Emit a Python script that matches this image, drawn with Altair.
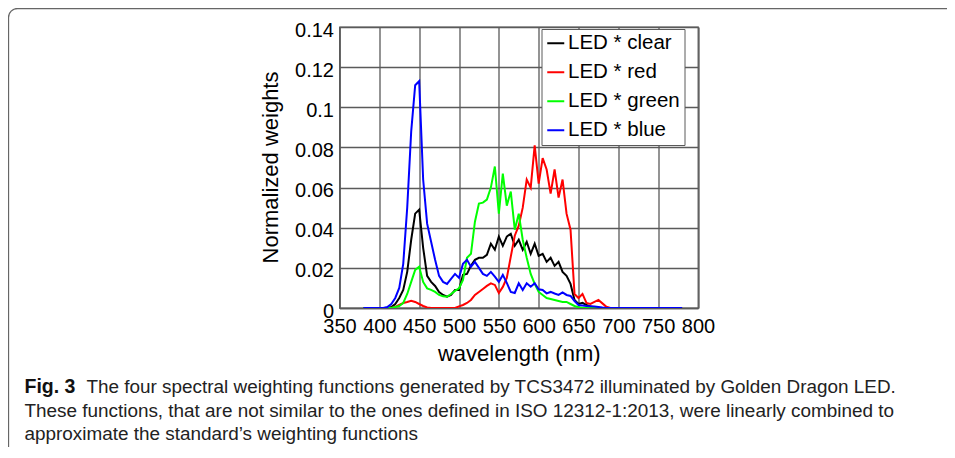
import altair as alt
import pandas as pd

# ---------------- data ----------------
wavelength = list(range(380, 785, 5))  # nm

clear = [0, 0, 0, 0, 0, 0, 0, 0.0005, 0.002, 0.005,
         0.009, 0.018, 0.034, 0.047, 0.049, 0.030, 0.016, 0.013, 0.011, 0.008,
         0.0065, 0.0056, 0.0065, 0.009, 0.009, 0.0165, 0.017, 0.021, 0.024, 0.025,
         0.025, 0.0265, 0.032, 0.029, 0.0356, 0.031, 0.0356, 0.037, 0.031, 0.034,
         0.029, 0.033, 0.027, 0.032, 0.026, 0.027, 0.023, 0.025, 0.021, 0.023,
         0.018, 0.016, 0.012, 0.004, 0.002, 0.0026, 0.0015, 0.0008, 0.0003, 0,
         0, 0, 0, 0, 0, 0, 0, 0, 0, 0,
         0, 0, 0, 0, 0, 0, 0, 0, 0, 0,
         0]

red = [0, 0, 0, 0, 0, 0, 0, 0, 0.0005, 0.0015,
       0.0025, 0.003, 0.0036, 0.003, 0.002, 0.001, 0.0003, 0, 0, 0,
       0, 0, 0, 0, 0.0008, 0.0015, 0.0025, 0.004, 0.0065, 0.008,
       0.0095, 0.011, 0.0123, 0.0115, 0.0075, 0.0105, 0.015, 0.0256, 0.036, 0.041,
       0.050, 0.064, 0.060, 0.081, 0.062, 0.0747, 0.069, 0.057, 0.069, 0.055,
       0.064, 0.047, 0.039, 0.007, 0.005, 0.007, 0.0025, 0.002, 0.003, 0.004,
       0.0023, 0.0006, 0, 0, 0, 0, 0, 0, 0, 0,
       0, 0, 0, 0, 0, 0, 0, 0, 0, 0,
       0]

green = [0, 0, 0, 0, 0, 0, 0, 0, 0.0005, 0.001,
         0.0025, 0.007, 0.013, 0.019, 0.0206, 0.013, 0.0098, 0.009, 0.008, 0.0065,
         0.0058, 0.0056, 0.007, 0.0085, 0.0098, 0.014, 0.025, 0.027, 0.043, 0.052,
         0.0525, 0.054, 0.060, 0.0705, 0.047, 0.067, 0.051, 0.058, 0.039, 0.047,
         0.034, 0.025, 0.017, 0.012, 0.008, 0.0065, 0.005, 0.0045, 0.004, 0.0035,
         0.003, 0.003, 0.002, 0.001, 0.0004, 0, 0, 0, 0, 0,
         0, 0, 0, 0, 0, 0, 0, 0, 0, 0,
         0, 0, 0, 0, 0, 0, 0, 0, 0, 0,
         0]

blue = [0, 0, 0, 0, 0, 0, 0.0005, 0.002, 0.005, 0.010,
        0.022, 0.050, 0.088, 0.111, 0.113, 0.064, 0.042, 0.033, 0.024, 0.016,
        0.013, 0.012, 0.0145, 0.017, 0.015, 0.022, 0.024, 0.0206, 0.023, 0.020,
        0.017, 0.016, 0.018, 0.0156, 0.013, 0.0165, 0.0125, 0.008, 0.0075, 0.0123,
        0.009, 0.0123, 0.0106, 0.0123, 0.0093, 0.009, 0.0073, 0.008, 0.0072, 0.0065,
        0.0078, 0.0065, 0.006, 0.0035, 0.0015, 0.0013, 0.001, 0.0009, 0.0007, 0.0005,
        0.0002, 0, 0, 0, 0, 0, 0, 0, 0, 0,
        0, 0, 0, 0, 0, 0, 0, 0, 0, 0,
        0]

series_names = ["LED * clear", "LED * red", "LED * green", "LED * blue"]
series_colors = ["#000000", "#ff0000", "#00ff00", "#0000ff"]
x_ticks = [350, 400, 450, 500, 550, 600, 650, 700, 750, 800]
y_ticks = [0, 0.02, 0.04, 0.06, 0.08, 0.1, 0.12, 0.14]

x_title = "wavelength (nm)"
y_title = "Normalized weights"
caption_bold = "Fig. 3"
caption_lines = [
    "The four spectral weighting functions generated by TCS3472 illuminated by Golden Dragon LED.",
    "These functions, that are not similar to the ones defined in ISO 12312-1:2013, were linearly combined to",
    "approximate the standard\u2019s weighting functions",
]

# ---------------- table ----------------
rows = []
for name, vals in zip(series_names, [clear, red, green, blue]):
    for i, (w, v) in enumerate(zip(wavelength, vals)):
        rows.append({"wavelength": w, "weight": v, "series": name, "order": i})
df = pd.DataFrame(rows)

FONT = "Liberation Sans, Arial, Helvetica, sans-serif"
CAP_FONT = "Liberation Sans, Arial, sans-serif"
CAP_SIZE = 18.9
GRID = "#5a5a5a"

lines = alt.Chart(df).mark_line(strokeWidth=2, clip=True).encode(
    x=alt.X("wavelength:Q",
            scale=alt.Scale(domain=[350, 800], nice=False, zero=False),
            axis=alt.Axis(values=x_ticks, title=x_title, grid=True,
                          ticks=False, tickSize=0, labelPadding=8,
                          labelFlush=False, labelOverlap=False, labelBound=False,
                          labelFontSize=20, labelFont=FONT, labelColor="#000",
                          titleFontSize=22, titleFont=FONT, titleFontWeight="normal",
                          titleColor="#000", titleBaseline="alphabetic",
                          titleY=52, domainColor=GRID, domainWidth=1.3,
                          gridColor=GRID, gridWidth=1.3, gridOpacity=1)),
    y=alt.Y("weight:Q",
            scale=alt.Scale(domain=[0, 0.14], nice=False),
            axis=alt.Axis(values=y_ticks, format=".2~f", title=y_title, grid=True,
                          ticks=False, tickSize=0, labelPadding=6, labelOffset=3,
                          labelFlush=False, labelOverlap=False, labelBound=False,
                          labelFontSize=20, labelFont=FONT, labelColor="#000",
                          titleFontSize=22, titleFont=FONT, titleFontWeight="normal",
                          titleColor="#000", titleBaseline="alphabetic",
                          titleX=-62, titleY=140, titleAngle=-90,
                          domainColor=GRID, domainWidth=1.3,
                          gridColor=GRID, gridWidth=1.3, gridOpacity=1)),
    color=alt.Color("series:N",
                    scale=alt.Scale(domain=series_names, range=series_colors),
                    sort=series_names,
                    legend=alt.Legend(title=None, orient="none", legendX=202, legendY=2,
                                      symbolType="stroke", symbolSize=289,
                                      symbolStrokeWidth=2, labelFontSize=20.5,
                                      labelFont=FONT, labelColor="#000",
                                      labelOffset=2, rowPadding=8, padding=4,
                                      strokeColor=GRID, fillColor="#ffffff",
                                      labelLimit=300)),
    order=alt.Order("order:Q"),
    detail="series:N",
)

one = pd.DataFrame({"k": [0]})

frame = alt.Chart(one).mark_rect(
    fillOpacity=0, stroke="#666666", strokeWidth=1.3, cornerRadius=9
).encode(
    x=alt.value(-331), x2=alt.value(700),
    y=alt.value(-18.5), y2=alt.value(520),
)

cap_bold = alt.Chart(one).mark_text(
    text=caption_bold, font=CAP_FONT, fontSize=CAP_SIZE + 0.6, fontWeight="bold",
    align="left", baseline="alphabetic", color="#111"
).encode(x=alt.value(-315), y=alt.value(366))

cap1 = alt.Chart(one).mark_text(
    text=caption_lines[0], font=CAP_FONT, fontSize=CAP_SIZE,
    align="left", baseline="alphabetic", color="#222"
).encode(x=alt.value(-253), y=alt.value(366))

cap2 = alt.Chart(one).mark_text(
    text=caption_lines[1], font=CAP_FONT, fontSize=CAP_SIZE,
    align="left", baseline="alphabetic", color="#222"
).encode(x=alt.value(-315), y=alt.value(390))

cap3 = alt.Chart(one).mark_text(
    text=caption_lines[2], font=CAP_FONT, fontSize=CAP_SIZE,
    align="left", baseline="alphabetic", color="#222"
).encode(x=alt.value(-315), y=alt.value(413))

chart = alt.layer(frame, lines, cap_bold, cap1, cap2, cap3).properties(
    width=358.5, height=281,
    autosize=alt.AutoSizeParams(type="none"),
    padding={"left": 331.5, "top": 19, "right": 249, "bottom": 139},
    background="white",
).configure_view(stroke=GRID, strokeWidth=1.3)

chart.save("out.html", embed_options={"renderer": "svg", "actions": False})
